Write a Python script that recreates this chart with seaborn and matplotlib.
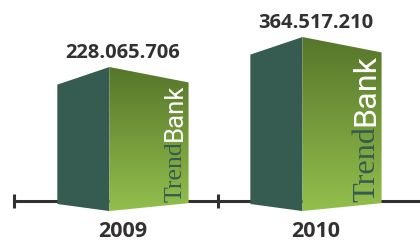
import numpy as np
import matplotlib
matplotlib.use("Agg")
import matplotlib.pyplot as plt
from matplotlib.patches import Polygon
from matplotlib.colors import LinearSegmentedColormap
import seaborn as sns

# data
years = ["2009", "2010"]
values = [228065706, 364517210]

# the boxes stand on a shifted base (infographic style), in millions
BASE = -427.0
heights = [v / 1e6 - BASE for v in values]

SIDE = "#365b50"
TOP_GREEN = "#56752a"
BOTTOM_GREEN = "#93bf4d"
INK = "#333030"

sns.set_style("white")
plt.rcParams["font.family"] = ["Open Sans", "DejaVu Sans"]

fig = plt.figure(figsize=(4.2, 2.46), dpi=100)
ax = fig.add_axes([0, 0, 1, 1])
ax.set_facecolor("white")

sns.barplot(x=years, y=heights, width=0.68, color=SIDE, ax=ax)

XLIM = (-0.637, 1.539)
YLIM = (-159, 960)
AXIS_Y = 45.5

# perspective offsets (in data units)
apex_off = 0.07
drop_l, drop_r = 80, 70
rise_l, rise_r = 32, 36

green = LinearSegmentedColormap.from_list("g", [TOP_GREEN, BOTTOM_GREEN])
grad = np.linspace(0, 1, 256).reshape(-1, 1)

boxes = []
for patch, label in zip(ax.patches, values):
    x0 = patch.get_x()
    x1 = x0 + patch.get_width()
    h = patch.get_height()
    patch.set_visible(False)
    xa = x0 + patch.get_width() / 2 - apex_off

    left = Polygon([(x0, h - drop_l), (xa, h), (xa, 0), (x0, rise_l)],
                   closed=True, facecolor=SIDE, edgecolor="none", zorder=3)
    ax.add_patch(left)
    right = Polygon([(xa, h), (x1, h - drop_r), (x1, rise_r), (xa, 0)],
                    closed=True, facecolor="none", edgecolor="none", zorder=3)
    ax.add_patch(right)
    im = ax.imshow(grad, cmap=green, extent=[xa, x1, 0, h], aspect="auto",
                   origin="upper", zorder=3, interpolation="bilinear")
    im.set_clip_path(right)

    ax.annotate(f"{label:,}".replace(",", "."), xy=(x0 + patch.get_width() / 2, h),
                xytext=(0, 6.5), textcoords="offset points", ha="center",
                va="baseline", fontsize=14.5, fontweight="bold", color=INK,
                zorder=5)
    boxes.append((x1, h - drop_r, rise_r))

ax.set_xlim(*XLIM)
ax.set_ylim(*YLIM)

# axis line with year labels and separator ticks
for side in ["top", "left", "right"]:
    ax.spines[side].set_visible(False)
ax.spines["bottom"].set_position(("data", AXIS_Y))
ax.spines["bottom"].set_bounds(-0.565, XLIM[1])
ax.spines["bottom"].set_linewidth(2.2)
ax.spines["bottom"].set_color(INK)
ax.set_yticks([])
ax.set_xticks([0, 1])
ax.set_xticklabels(years, fontsize=15.5, fontweight="bold", color=INK)
ax.set_xticks([-0.565, 0.49], minor=True)
ax.tick_params(axis="x", which="major", length=0, pad=14.5)
ax.tick_params(axis="x", which="minor", bottom=True, length=9.4, width=2.2,
               direction="inout", color=INK)
ax.set_xlabel("")
ax.set_ylabel("")

# TrendBank logo on each green face
fig.canvas.draw()
r = fig.canvas.get_renderer()
to_px = ax.transData
to_data = ax.transData.inverted()
for x1, top, bot in boxes:
    px_right = to_px.transform((x1, 0))[0]
    xb = to_data.transform((px_right - 7, 0))[0]
    y_start_px = to_px.transform((0, bot))[1] + 1
    y_end_px = to_px.transform((0, top))[1] - 2
    fs = 20
    t = ax.text(xb, 0, "Trend", rotation=90, rotation_mode="anchor",
                ha="left", va="baseline", family="Liberation Serif",
                color=SIDE, fontsize=fs, zorder=6)
    b = ax.text(xb, 0, "Bank", rotation=90, rotation_mode="anchor",
                ha="left", va="baseline", family="Roboto",
                color="white", fontsize=fs, zorder=6)
    fig.canvas.draw()
    total = t.get_window_extent(r).height + b.get_window_extent(r).height
    fs = fs * (y_end_px - y_start_px) / total
    t.set_fontsize(fs)
    b.set_fontsize(fs)
    fig.canvas.draw()
    lt = t.get_window_extent(r).height
    ys = to_data.transform((0, y_start_px))[1]
    ye = to_data.transform((0, y_start_px + lt))[1]
    t.set_y(ys)
    b.set_y(ye)

fig.savefig("out.png", dpi=100)
